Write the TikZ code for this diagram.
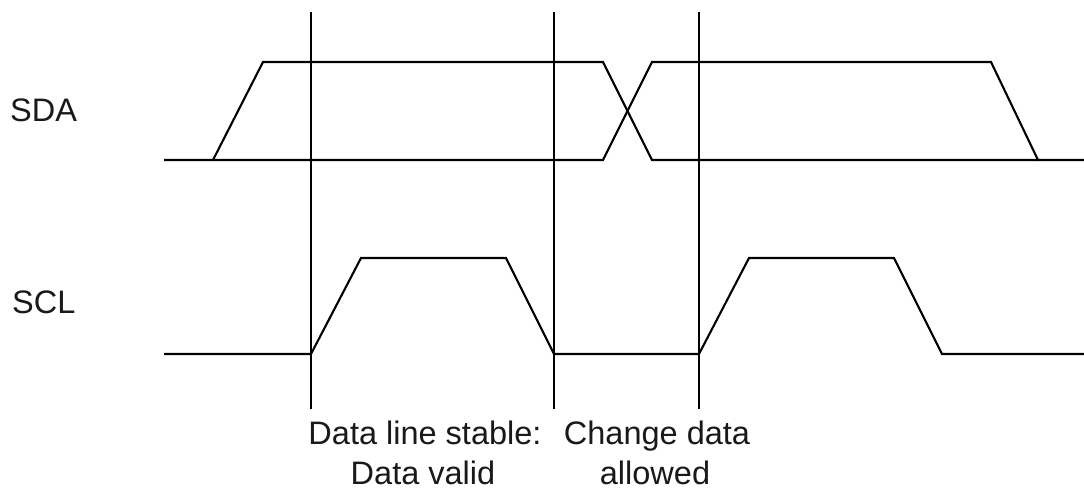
\documentclass[tikz,border=0pt]{standalone}
\usepackage{fontspec}
\setmainfont{Liberation Sans}
\begin{document}
\begin{tikzpicture}[x=1pt,y=-1pt,
  sig/.style={line width=2.1pt,line join=miter},
  marker/.style={line width=2.6pt},
  lbl/.style={inner sep=0pt,font=\fontsize{32.5}{40}\selectfont,text=black!90}]
\useasboundingbox (0,0) rectangle (1084,492);
% vertical markers
\coordinate (v1t) at (311,12); \coordinate (v1b) at (311,409);
\coordinate (v2t) at (554,12); \coordinate (v2b) at (554,409);
\coordinate (v3t) at (699,12); \coordinate (v3b) at (699,409);
\draw[marker] (v1t) -- (v1b);
\draw[marker] (v2t) -- (v2b);
\draw[marker] (v3t) -- (v3b);
% SDA
\draw[sig] (164,160) -- (603,160) -- (652,62) -- (991,62) -- (1038,160) -- (1084,160);
\draw[sig] (213,160) -- (263,62) -- (603,62) -- (652,160) -- (1038,160);
% SCL
\draw[sig] (164,354) -- (311,354) -- (361,258) -- (506,258) -- (554,354) -- (699,354)
  -- (749,258) -- (894,258) -- (942,354) -- (1084,354);
% labels
\node[lbl,anchor=base west] (sda) at (10,122) {SDA};
\node[lbl,anchor=base west] (scl) at (12,313) {SCL};
\node[lbl,anchor=base] (stable) at (425,444) {Data line stable:};
\node[lbl,anchor=base] (change) at (657,444) {Change data};
\node[lbl,anchor=base] (valid) at (423,484) {Data valid};
\node[lbl,anchor=base] (allowed) at (655,484) {allowed};
\end{tikzpicture}
\end{document}
